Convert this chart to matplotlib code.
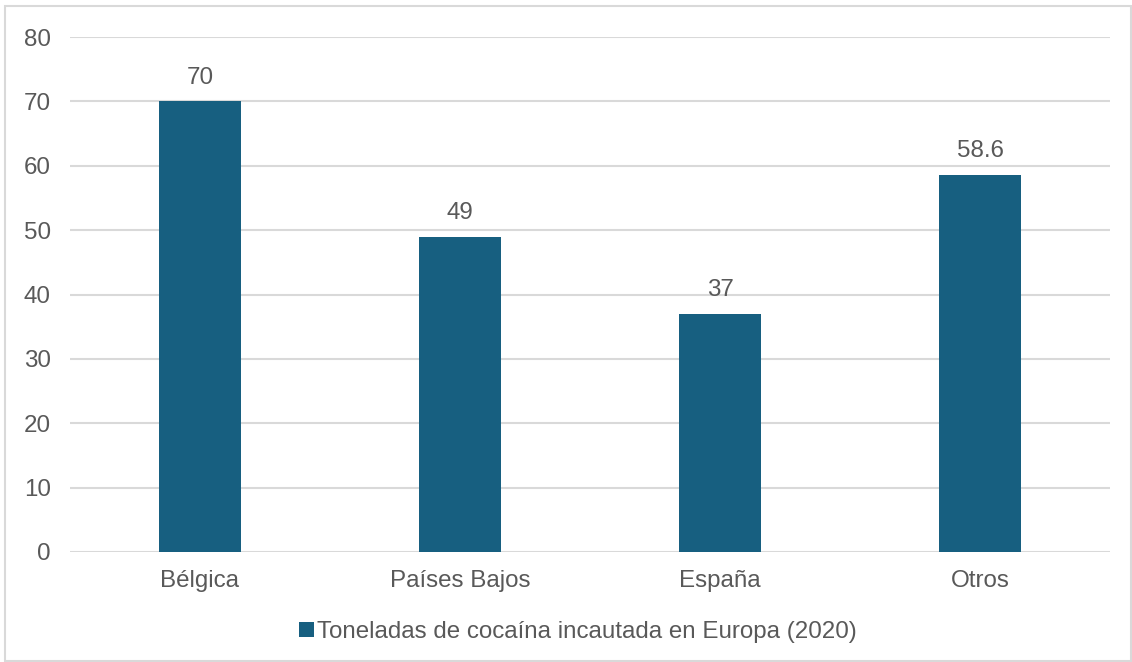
import matplotlib.pyplot as plt
from matplotlib.patches import Rectangle

plt.rcParams['font.family'] = ['Liberation Sans', 'DejaVu Sans']

paises = ['Bélgica', 'Países Bajos', 'España', 'Otros']
toneladas = [70, 49, 37, 58.6]
etiquetas = ['70', '49', '37', '58.6']
serie = 'Toneladas de cocaína incautada en Europa (2020)'

azul = '#175f80'
gris_texto = '#595959'
gris_linea = '#d9d9d9'
tam = 17.4

fig = plt.figure(figsize=(11.32, 6.62), dpi=100)
ax = fig.add_axes([70 / 1132, 1 - 552 / 662, 1040 / 1132, 515 / 662])

barras = ax.bar(range(len(paises)), toneladas, width=0.315, color=azul, label=serie, zorder=3)
ax.bar_label(barras, labels=etiquetas, padding=9, fontsize=tam, color=gris_texto)

ax.set_xlim(-0.5, len(paises) - 0.5)
ax.set_ylim(0, 80)
ax.set_yticks(range(0, 81, 10))
ax.set_xticks(range(len(paises)))
ax.set_xticklabels(paises)
ax.tick_params(axis='both', length=0, labelsize=tam, labelcolor=gris_texto)
ax.tick_params(axis='y', pad=14)
ax.tick_params(axis='x', pad=13)
ax.grid(axis='y', color=gris_linea, linewidth=1.5, zorder=0)
for s in ax.spines.values():
    s.set_visible(False)

# borde exterior del gráfico
fig.patches.append(Rectangle((5 / 1132, 1 - 661 / 662), 1126 / 1132, 655 / 662,
                             transform=fig.transFigure, fill=False,
                             edgecolor=gris_linea, linewidth=1.5))

fig.legend(loc='center', bbox_to_anchor=(578 / 1132, 1 - 632 / 662), frameon=False,
           fontsize=tam, labelcolor=gris_texto, handlelength=0.6, handleheight=0.6,
           handletextpad=0.15)

fig.savefig('out.png', dpi=100)
